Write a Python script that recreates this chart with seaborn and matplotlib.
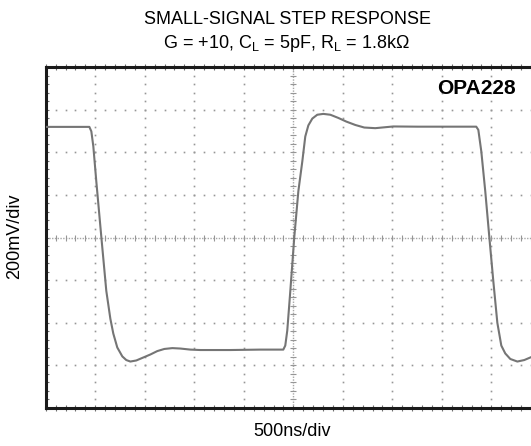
import numpy as np
import pandas as pd
import matplotlib
matplotlib.use("Agg")
import matplotlib.pyplot as plt
from matplotlib.ticker import MultipleLocator
import seaborn as sns

# Scope trace: time in microseconds, output in millivolts
time_us = [-2.50, -2.06, -2.040, -2.020, -1.990, -1.939, -1.889, -1.848, -1.818,
           -1.778, -1.727, -1.687, -1.646, -1.586, -1.515, -1.444, -1.374, -1.303,
           -1.222, -1.141, -1.040, -0.939, -0.636, -0.333, -0.101, -0.081, -0.061,
           -0.030, 0.010, 0.051, 0.091, 0.121, 0.152, 0.192, 0.242, 0.303, 0.374,
           0.455, 0.535, 0.626, 0.717, 0.828, 1.010, 1.253, 1.848, 1.869, 1.899,
           1.939, 1.980, 2.020, 2.061, 2.101, 2.141, 2.192, 2.263, 2.333, 2.404]
output_mv = [519, 519, 498, 428, 264, 2, -250, -381, -451,
             -516, -558, -575, -582, -577, -563, -549, -533, -523,
             -519, -521, -526, -528, -528, -526, -526, -507, -437,
             -250, 2, 217, 357, 474, 526, 558, 576, 580, 576,
             561, 544, 528, 516, 513, 521, 520, 520, 505, 404,
             217, 2, -203, -400, -507, -544, -570, -582, -575, -561]

title_lines = ["SMALL-SIGNAL STEP RESPONSE",
               r"G = +10, C$_{\rm L}$ = 5pF, R$_{\rm L}$ = 1.8k$\Omega$"]
device_label = "OPA228"
y_label = "200mV/div"
x_label = "500ns/div"

sns.set_style("white")
plt.rcParams["font.family"] = ["Liberation Sans", "DejaVu Sans"]
plt.rcParams["mathtext.fontset"] = "custom"
plt.rcParams["mathtext.rm"] = "Liberation Sans"
plt.rcParams["mathtext.it"] = "Liberation Sans"
plt.rcParams["text.color"] = "black"

W, H = 531, 446
fig = plt.figure(figsize=(W / 100, H / 100), dpi=100)
ax = fig.add_axes([45.8 / W, 38 / H, 495 / W, 341 / H])

x_min, x_max = -2.5, 2.5
y_min, y_max = -800, 800
ax.set_xlim(x_min, x_max)
ax.set_ylim(y_min, y_max)

grid_col = "#969696"
# dotted graticule: dots at every minor step along each major division line
minor_t = np.arange(x_min, x_max + 1e-9, 0.1)
minor_v = np.arange(y_min, y_max + 1e-9, 40)
for v in [-600, -400, -200, 200, 400, 600]:
    ax.plot(minor_t, np.full_like(minor_t, v), ls="none", marker="s",
            ms=1.2, mew=0, color=grid_col, zorder=1)
for t in [-2.0, -1.5, -1.0, -0.5, 0.5, 1.0, 1.5, 2.0]:
    ax.plot(np.full_like(minor_v, t), minor_v, ls="none", marker="s",
            ms=1.2, mew=0, color=grid_col, zorder=1)

# centre axes with scale marks
ax.axhline(0, color="#a8a8a8", lw=1.0, ls=(0, (1, 1)), zorder=1)
ax.axvline(0, color="#a8a8a8", lw=1.0, ls=(0, (1, 1)), zorder=1)
ax.plot(minor_t, np.zeros_like(minor_t), ls="none", marker="|", ms=4,
        mew=0.8, color=grid_col, zorder=1)
ax.plot(np.zeros_like(minor_v), minor_v, ls="none", marker="_", ms=4,
        mew=0.8, color=grid_col, zorder=1)

df = pd.DataFrame({"time_us": time_us, "output_mv": output_mv})
sns.lineplot(data=df, x="time_us", y="output_mv", sort=False, ax=ax,
             color="#757575", lw=1.5, zorder=3)

ax.set_xlabel("")
ax.set_ylabel("")
ax.xaxis.set_major_locator(MultipleLocator(0.5))
ax.xaxis.set_minor_locator(MultipleLocator(0.1))
ax.yaxis.set_major_locator(MultipleLocator(200))
ax.yaxis.set_minor_locator(MultipleLocator(40))
ax.tick_params(which="both", labelbottom=False, labelleft=False,
               color="#707070", width=0.8)
ax.tick_params(axis="x", which="both", bottom=True, top=True,
               direction="inout", length=4)
ax.tick_params(axis="y", which="both", left=True, right=False,
               direction="in", length=2)

for side in ["top", "left", "bottom"]:
    ax.spines[side].set_linewidth(2.2)
    ax.spines[side].set_color("#1a1a1a")
ax.spines["right"].set_visible(False)

fig.text(516 / W, 1 - 89 / H, device_label, ha="right", va="center",
         fontsize=15, fontweight="bold")

fig.text(287 / W, 1 - 19 / H, title_lines[0], ha="center", va="center",
         fontsize=13)
fig.text(287 / W, 1 - 43 / H, title_lines[1], ha="center", va="center",
         fontsize=13)
fig.text(15 / W, 1 - 236 / H, y_label, ha="center", va="center",
         rotation=90, fontsize=13)
fig.text(292 / W, 1 - 432 / H, x_label, ha="center", va="center",
         fontsize=13)

fig.savefig("out.png", dpi=100)
